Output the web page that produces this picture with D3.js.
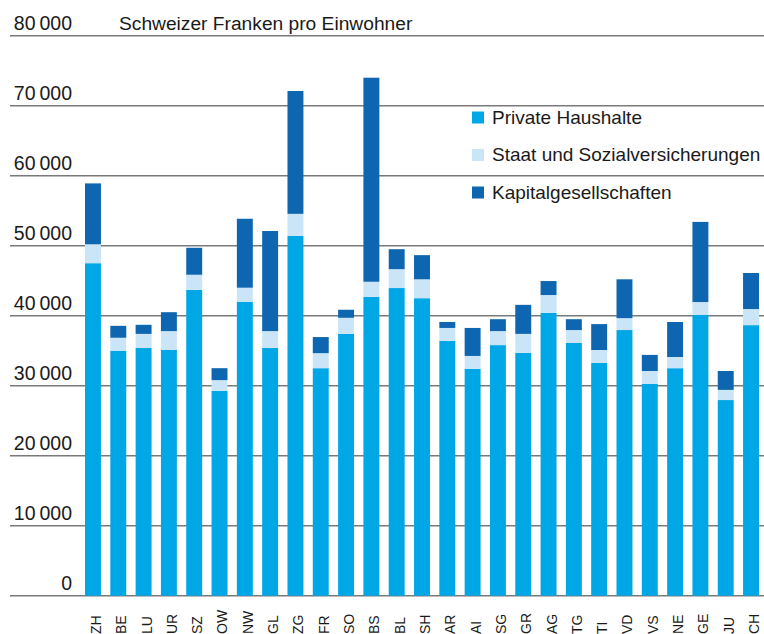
<!DOCTYPE html>
<html>
<head>
<meta charset="utf-8">
<script src="https://cdn.jsdelivr.net/npm/d3@7"></script>
<style>
  html, body { margin: 0; padding: 0; background: #fff; }
  svg { display: block; font-family: "Liberation Sans", Arial, Helvetica, sans-serif; }
</style>
</head>
<body>
<div id="chart"></div>
<script>
const cantons = ["ZH", "BE", "LU", "UR", "SZ", "OW", "NW", "GL", "ZG", "FR", "SO", "BS", "BL", "SH",
    "AR", "AI", "SG", "GR", "AG", "TG", "TI", "VD", "VS", "NE", "GE", "JU", "CH"];

// CHF per inhabitant
const privateHaushalte = [47500, 35000, 35400, 35100, 43700, 29250, 42000, 35400, 51400, 32500, 37400, 42700, 43950, 42500,
    36400, 32400, 35800, 34700, 40400, 36100, 33250, 37950, 30250, 32500, 40100, 27950, 38650];
const staat = [2700, 1850, 2000, 2700, 2150, 1550, 2000, 2400, 3150, 2150, 2300, 2150, 2700, 2700,
    1850, 1850, 2000, 2700, 2550, 1850, 1850, 1700, 1850, 1600, 1850, 1450, 2300];
const kapital = [8700, 1700, 1300, 2700, 3850, 1700, 9850, 14300, 17550, 2300, 1150, 29150, 2850, 3450,
    850, 4000, 1700, 4150, 2000, 1550, 3700, 5550, 2300, 5000, 11450, 2700, 5150];

const seriesNames = ["Private Haushalte", "Staat und Sozialversicherungen", "Kapitalgesellschaften"];
const yTicks = [0, 10000, 20000, 30000, 40000, 50000, 60000, 70000, 80000];
const title = "Schweizer Franken pro Einwohner";

const colors = ["#00a7e7", "#c9e5f7", "#0e66b0"];

const width = 764, height = 634;

const svg = d3.select("#chart")
    .append("svg")
    .attr("width", width)
    .attr("height", height);

const x = d3.scaleBand()
    .domain(cantons)
    .range([85, 759])
    .paddingInner(0.37)
    .paddingOuter(0);

const y = d3.scaleLinear()
    .domain([0, 80000])
    .range([595.7, 35.7]);

// grid lines + labels
const fmt = v => d3.format(",")(v).replace(/,/g, "\u2009");

svg.append("g")
    .selectAll("line")
    .data(yTicks)
    .join("line")
    .attr("x1", 10)
    .attr("x2", width)
    .attr("y1", d => y(d))
    .attr("y2", d => y(d))
    .attr("stroke", "#7a7a7a")
    .attr("stroke-width", 1.6);

svg.append("g")
    .selectAll("text")
    .data(yTicks)
    .join("text")
    .attr("x", 72)
    .attr("y", d => y(d) - 5.5)
    .attr("text-anchor", "end")
    .attr("font-size", 19.5)
    .attr("fill", "#1a1a1a")
    .text(d => fmt(d));

svg.append("text")
    .attr("x", 119)
    .attr("y", 30)
    .attr("font-size", 19.2)
    .attr("fill", "#1a1a1a")
    .text(title);

// stacked bars
const rows = cantons.map((c, i) => ({ canton: c, p: privateHaushalte[i], s: staat[i], k: kapital[i] }));
const stack = d3.stack().keys(["p", "s", "k"]);
const layers = stack(rows);

svg.append("g")
    .selectAll("g")
    .data(layers)
    .join("g")
    .attr("fill", (_, i) => colors[i])
    .selectAll("rect")
    .data(d => d)
    .join("rect")
    .attr("x", d => x(d.data.canton))
    .attr("width", x.bandwidth())
    .attr("y", d => y(d[1]))
    .attr("height", d => y(d[0]) - y(d[1]));

// axis labels, rotated
svg.append("g")
    .selectAll("text")
    .data(cantons)
    .join("text")
    .attr("transform", d => `translate(${x(d) + x.bandwidth()}, 634) rotate(-90)`)
    .attr("font-size", 14)
    .attr("fill", "#1a1a1a")
    .text(d => d);

// legend
const legend = svg.append("g")
    .selectAll("g")
    .data(seriesNames)
    .join("g")
    .attr("transform", (_, i) => `translate(472, ${111.5 + i * 37.5})`);

legend.append("rect")
    .attr("width", 12)
    .attr("height", 12)
    .attr("fill", (_, i) => colors[i]);

legend.append("text")
    .attr("x", 20)
    .attr("y", 12)
    .attr("font-size", 19)
    .attr("fill", "#1a1a1a")
    .text(d => d);
</script>
</body>
</html>
